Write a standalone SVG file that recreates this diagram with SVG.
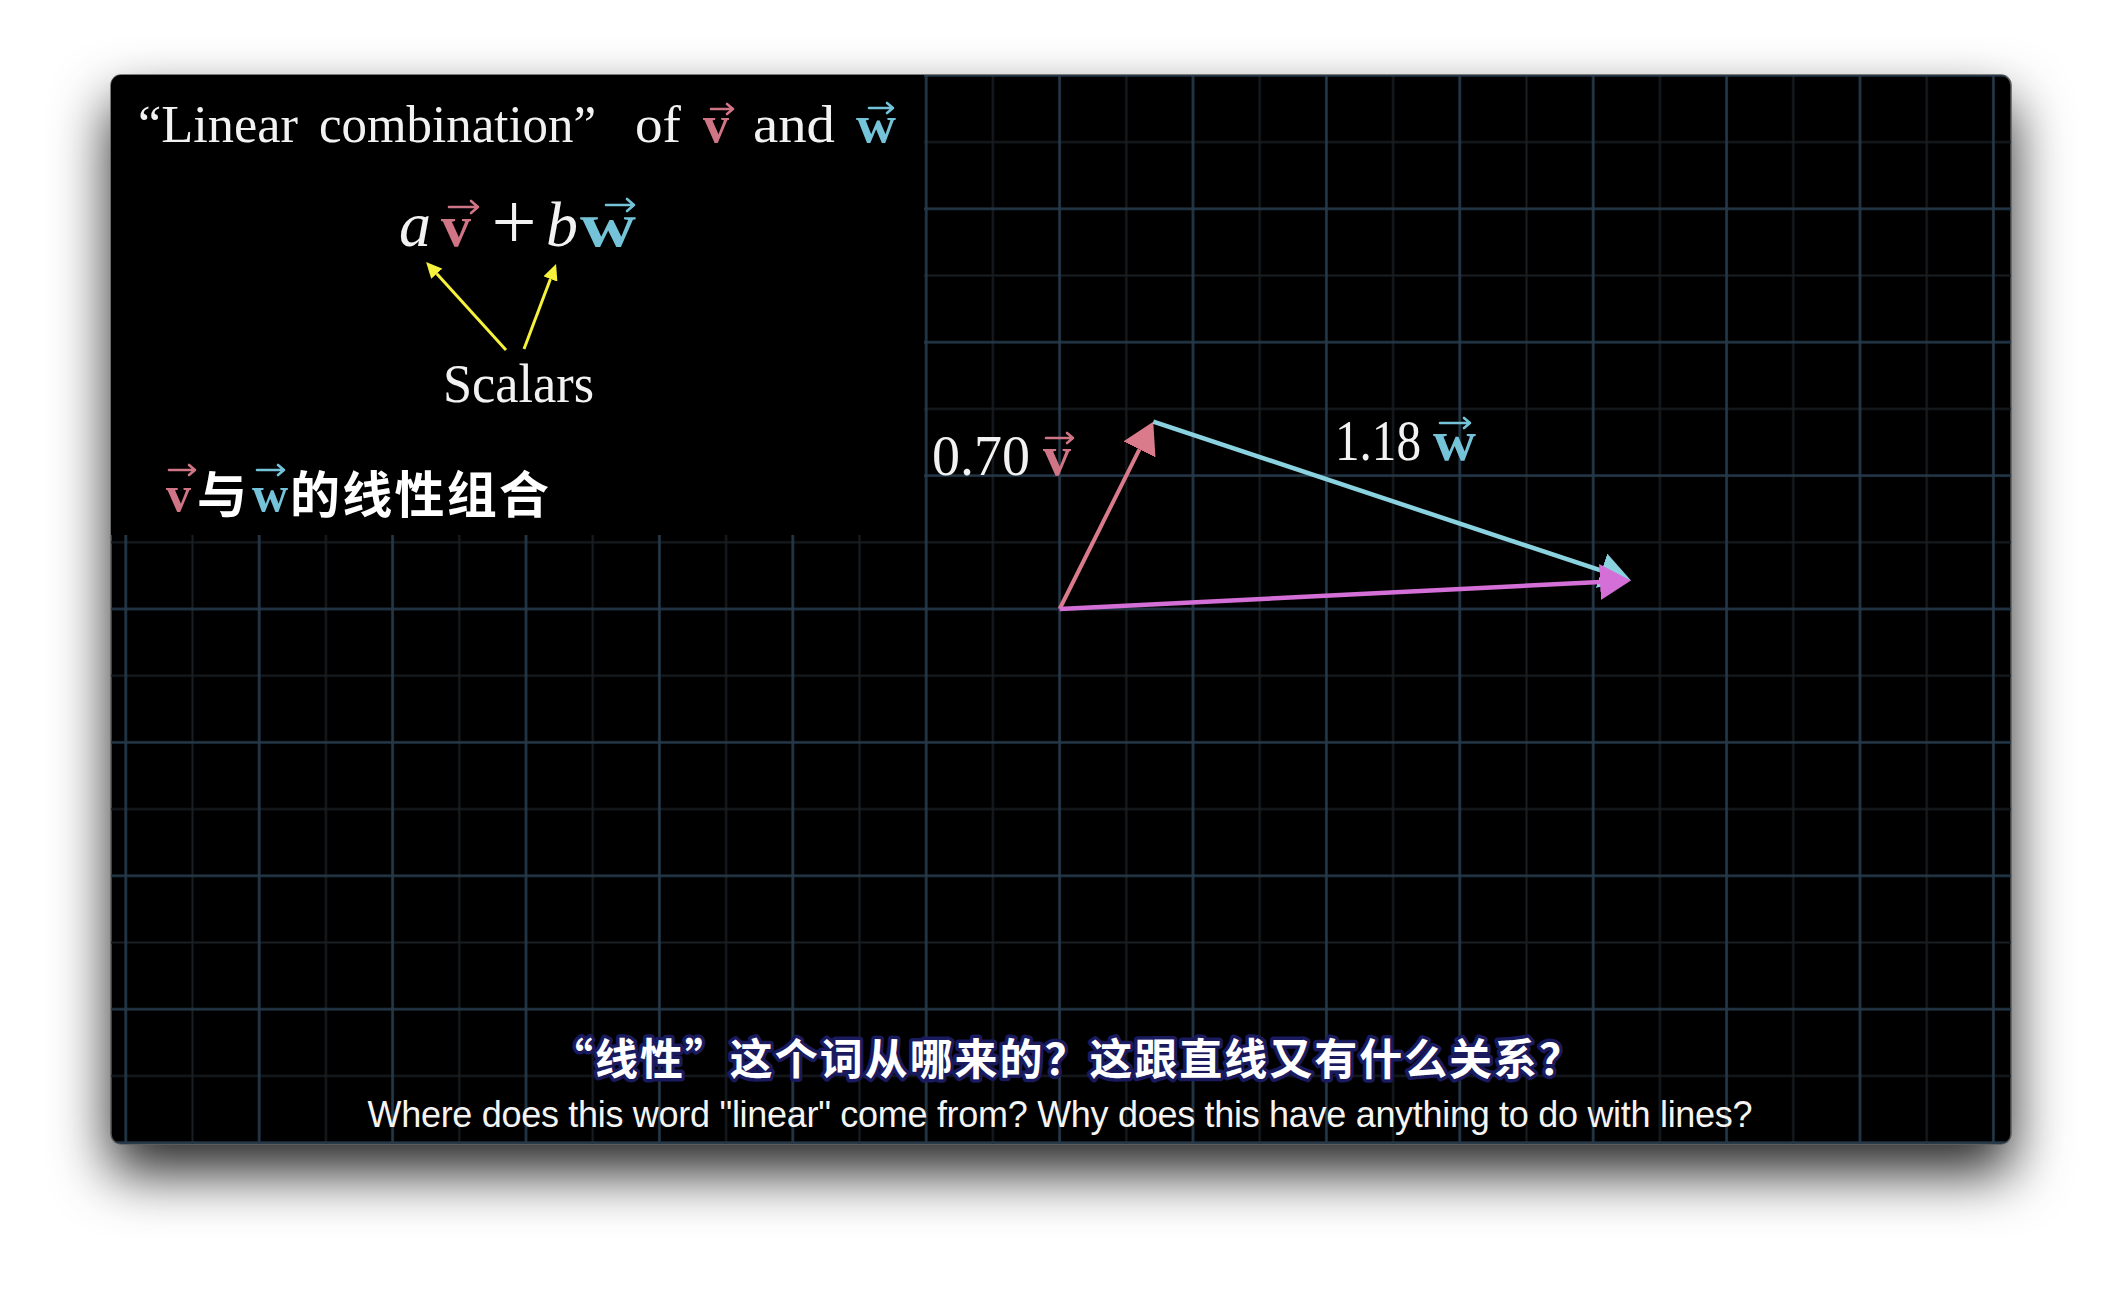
<svg xmlns="http://www.w3.org/2000/svg" width="2122" height="1292" viewBox="0 0 2122 1292">
<style>
.serif{font-family:"Liberation Serif","Times New Roman",serif;fill:#f2f2f2}
.it{font-style:italic}
.bv{font-family:"Liberation Serif",serif;font-weight:bold;fill:#cf7585}
.bw{font-family:"Liberation Serif",serif;font-weight:bold;fill:#74c3d8}
.cjk{font-family:"Noto Sans CJK SC","Noto Sans",sans-serif;font-weight:700;fill:#ffffff}
.vecv{stroke:#cf7585;stroke-width:2.6;fill:none;stroke-linecap:round;stroke-linejoin:round}
.vecw{stroke:#74c3d8;stroke-width:2.6;fill:none;stroke-linecap:round;stroke-linejoin:round}
.sub{font-family:"Noto Sans CJK SC",sans-serif;font-weight:700;fill:#ffffff;stroke:#1a1a5e;stroke-width:7;paint-order:stroke;stroke-linejoin:round}
.en{font-family:"Liberation Sans",Arial,sans-serif;fill:#f4f4f4}
.yarrow{stroke:#f6f13c;stroke-width:3;fill:none}
</style>
<defs>
<filter id="shadow" x="-10%" y="-15%" width="120%" height="135%">
<feDropShadow dx="0" dy="28" stdDeviation="28" flood-color="#000" flood-opacity="0.85"/>
</filter>
<clipPath id="frameClip"><rect x="111" y="75" width="1900" height="1069" rx="10"/></clipPath>
<pattern id="grid" patternUnits="userSpaceOnUse" x="92.45" y="42.05" width="133.4" height="133.4">
<path d="M100.05 0V133.4M0 100.05H133.4" stroke="#191e22" stroke-width="2"/>
<path d="M33.35 0V133.4M0 33.35H133.4" stroke="#25394a" stroke-width="2.6"/>
</pattern>
<marker id="headV" markerUnits="userSpaceOnUse" markerWidth="32" markerHeight="36" refX="0" refY="18" orient="auto"><path d="M0 0L31 18L0 36z" fill="#d97b8b"/></marker>
<marker id="headW" markerUnits="userSpaceOnUse" markerWidth="32" markerHeight="36" refX="0" refY="18" orient="auto"><path d="M0 0L31 18L0 36z" fill="#8ad2e0"/></marker>
<marker id="headS" markerUnits="userSpaceOnUse" markerWidth="32" markerHeight="36" refX="0" refY="18" orient="auto"><path d="M0 0L31 18L0 36z" fill="#d46fd7"/></marker>
<marker id="headY" markerUnits="userSpaceOnUse" markerWidth="17" markerHeight="15" refX="0" refY="7.5" orient="auto"><path d="M0 0L16 7.5L0 15z" fill="#f6f13c"/></marker>
</defs>
<rect width="2122" height="1292" fill="#ffffff"/>
<g id="frame">
<rect x="111" y="75" width="1900" height="1069" rx="10" fill="#000" stroke="#5a5a5a" stroke-width="1.5" filter="url(#shadow)"/>
<g clip-path="url(#frameClip)">
<rect x="111" y="75" width="1900" height="1069" fill="url(#grid)"/>
<rect x="111" y="70" width="813" height="465" fill="#000"/>
</g>
</g>
<g id="title">
<text class="serif" x="138" y="142" font-size="52" textLength="160" lengthAdjust="spacingAndGlyphs">“Linear</text>
<text class="serif" x="319" y="142" font-size="52" textLength="277" lengthAdjust="spacingAndGlyphs">combination”</text>
<text class="serif" x="635" y="142" font-size="52" textLength="46" lengthAdjust="spacingAndGlyphs">of</text>
<text class="bv" x="703" y="142" font-size="52">v</text>
<path class="vecv" d="M711 109H733M727 104L733 109L727 114"/>
<text class="serif" x="753" y="142" font-size="52" textLength="82" lengthAdjust="spacingAndGlyphs">and</text>
<text class="bw" x="856" y="142" font-size="52" textLength="40" lengthAdjust="spacingAndGlyphs">w</text>
<path class="vecw" d="M869 108H893M887 103L893 108L887 113"/>
</g>
<g id="formula">
<text class="serif it" x="399" y="246" font-size="64">a</text>
<text class="bv" x="441" y="246" font-size="60">v</text>
<path class="vecv" d="M449 207H478M471 201L478 207L471 213"/>
<text class="serif" x="514" y="249" font-size="80" text-anchor="middle">+</text>
<text class="serif it" x="546" y="246" font-size="64">b</text>
<text class="bw" x="580" y="246" font-size="64" textLength="56" lengthAdjust="spacingAndGlyphs">w</text>
<path class="vecw" d="M606 205H634M627 199L634 205L627 211"/>
</g>
<g id="scalars">
<text class="serif" x="443" y="402" font-size="54" textLength="151" lengthAdjust="spacingAndGlyphs">Scalars</text>
</g>
<g id="cn-label">
<text class="bv" x="166" y="511" font-size="50">v</text>
<path class="vecv" d="M169 470H195M189 465L195 470L189 475"/>
<text class="cjk" x="197" y="513" font-size="50">与</text>
<text class="bw" x="252" y="511" font-size="50">w</text>
<path class="vecw" d="M257 470H284M278 465L284 470L278 475"/>
<text class="cjk" x="290" y="513" font-size="50" textLength="259">的线性组合</text>
</g>
<g id="label-v">
<text class="serif" x="932" y="475" font-size="56" textLength="98" lengthAdjust="spacingAndGlyphs">0.70</text>
<text class="bv" x="1043" y="475" font-size="56">v</text>
<path class="vecv" d="M1046 438H1073M1067 433L1073 438L1067 443"/>
</g>
<g id="label-w">
<text class="serif" x="1335" y="460" font-size="56" textLength="86" lengthAdjust="spacingAndGlyphs">1.18</text>
<text class="bw" x="1433" y="460" font-size="56" textLength="43" lengthAdjust="spacingAndGlyphs">w</text>
<path class="vecw" d="M1440 423H1470M1464 418L1470 423L1464 428"/>
</g>
<g id="connectors">
<line class="yarrow" x1="506" y1="350" x2="436.8" y2="273.8" marker-end="url(#headY)"/>
<line class="yarrow" x1="524" y1="349" x2="550.4" y2="279" marker-end="url(#headY)"/>
<line x1="1059.6" y1="609" x2="1139.4" y2="449.4" stroke="#d97b8b" stroke-width="4" marker-end="url(#headV)"/>
<line x1="1153.3" y1="421.7" x2="1601.6" y2="570.7" stroke="#8ad2e0" stroke-width="4.5" marker-end="url(#headW)"/>
<line x1="1059.6" y1="609" x2="1600" y2="582" stroke="#d46fd7" stroke-width="4.5" marker-end="url(#headS)"/>
</g>
<g id="subtitles">
<text class="sub" x="1066" y="1075" font-size="43" text-anchor="middle" textLength="1032">“线性”这个词从哪来的？这跟直线又有什么关系？</text>
<text class="en" x="1060" y="1127" font-size="36" text-anchor="middle" textLength="1385">Where does this word "linear" come from? Why does this have anything to do with lines?</text>
</g>
</svg>
